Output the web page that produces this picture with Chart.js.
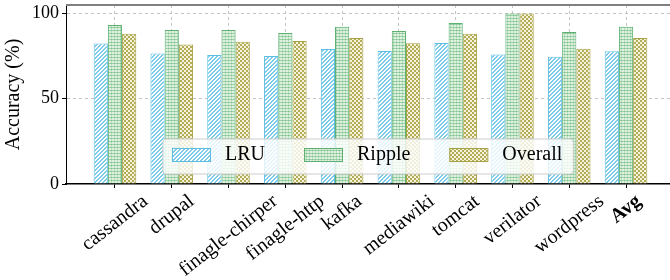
<!DOCTYPE html>
<html>
<head>
<meta charset="utf-8">
<script src="https://cdn.jsdelivr.net/npm/chart.js@4.4.0/dist/chart.umd.min.js"></script>
<style>
  html, body { margin: 0; padding: 0; background: #fff; overflow: hidden; }
  #wrap { width: 670px; height: 280px; overflow: hidden; }
</style>
</head>
<body>
<div id="wrap"><canvas id="accuracyChart" width="680" height="280"></canvas></div>
<script>
const categories = [
    "cassandra", "drupal", "finagle-chirper", "finagle-http", "kafka",
    "mediawiki", "tomcat", "verilator", "wordpress", "Avg"
];
const lruValues = [82.4, 76.5, 75.7, 75.1, 79.2, 78.0, 82.7, 75.9, 74.7, 77.8];
const rippleValues = [93.3, 90.4, 90.4, 88.6, 92.2, 89.8, 94.5, 100, 89.2, 92.2];
const overallValues = [88.2, 81.8, 83.5, 83.9, 85.7, 82.5, 88.2, 100, 79.4, 85.7];
const yTicks = [0, 50, 100];

Chart.defaults.font.family = "'Liberation Serif', serif";
Chart.defaults.color = "#000";

const canvas = document.getElementById("accuracyChart");
const ctx = canvas.getContext("2d");

// small tiles for the hatch fills
function makePattern(size, paint) {
    const tile = document.createElement("canvas");
    tile.width = size;
    tile.height = size;
    const g = tile.getContext("2d");
    for (let y = 0; y < size; y++) {
        for (let x = 0; x < size; x++) {
            g.fillStyle = paint(x, y);
            g.fillRect(x, y, 1, 1);
        }
    }
    return ctx.createPattern(tile, "repeat");
}

const lruFill = makePattern(4, (x, y) => ((x + y) % 4 < 2 ? "#7dcbea" : "#ffffff"));
const rippleFill = makePattern(3, (x, y) =>
    (y === 0 && x === 0) ? "#80c191" :
    (y === 0) ? "#9cd3a6" : (x === 0 ? "#b8e0bf" : "#dff0e1"));
const overallFill = makePattern(4, (x, y) =>
    (((x >> 1) + (y >> 1)) % 2 === 0) ? "#b2ac57" : "#f5f3dc");

/** ===== legend drawn inside the plot ===== */
const boxLegend = {
    id: "boxLegend",
    afterDatasetsDraw(chart) {
        const c = chart.ctx;
        const area = chart.chartArea;
        const x0 = area.left + 97;
        const y0 = area.bottom - 45;
        const h = 35;
        c.save();
        c.font = "20px 'Liberation Serif'";
        let w = 9;
        const items = chart.data.datasets.map((ds) => {
            const tw = c.measureText(ds.label).width;
            const item = { ds, x: x0 + w, tw };
            w += 38 + 15 + tw + 39;
            return item;
        });
        w = w - 39 + 11;
        c.beginPath();
        c.roundRect(x0, y0, w, h, 3);
        c.fillStyle = "rgba(255,255,255,0.8)";
        c.fill();
        c.strokeStyle = "#cccccc";
        c.lineWidth = 1;
        c.stroke();
        items.forEach(({ ds, x }) => {
            const sy = y0 + 9;
            c.fillStyle = ds.backgroundColor;
            c.fillRect(x, sy, 38, 13);
            c.strokeStyle = ds.borderColor;
            c.strokeRect(x + 0.5, sy + 0.5, 38, 13);
            c.fillStyle = "#000";
            c.textBaseline = "middle";
            c.fillText(ds.label, x + 38 + 15, sy + 7);
        });
        c.restore();
    },
    afterDraw(chart) {
        const c = chart.ctx;
        const area = chart.chartArea;
        c.save();
        c.strokeStyle = "#808080";
        c.lineWidth = 2;
        c.beginPath();
        c.moveTo(area.left, area.top);
        c.lineTo(area.right + 10, area.top);
        c.stroke();
        c.restore();
    }
};

/** ===== rotated category labels, centred under each tick ===== */
const centredLabels = {
    id: "centredLabels",
    afterDraw(chart) {
        const c = chart.ctx;
        const xScale = chart.scales.x;
        const area = chart.chartArea;
        const angle = (38 * Math.PI) / 180;
        const size = 20;
        c.save();
        c.fillStyle = "#000";
        c.textAlign = "center";
        c.textBaseline = "middle";
        categories.forEach((name, i) => {
            const bold = i === categories.length - 1;
            c.font = (bold ? "bold " : "") + size + "px 'Liberation Serif'";
            const w = c.measureText(name).width;
            const boxH = w * Math.sin(angle) + size * 0.9 * Math.cos(angle);
            c.save();
            c.translate(xScale.getPixelForValue(i), area.bottom + 8 + boxH / 2);
            c.rotate(-angle);
            c.fillText(name, 0, 0);
            c.restore();
        });
        c.restore();
    }
};

new Chart(ctx, {
    type: "bar",
    data: {
        datasets: [
            {
                label: "LRU",
                data: lruValues.map((v, i) => ({ x: i, y: v })),
                backgroundColor: lruFill,
                borderColor: "#5ebde2",
                borderWidth: 1,
            },
            {
                label: "Ripple",
                data: rippleValues.map((v, i) => ({ x: i, y: v })),
                backgroundColor: rippleFill,
                borderColor: "#5eb072",
                borderWidth: 1,
            },
            {
                label: "Overall",
                data: overallValues.map((v, i) => ({ x: i, y: v })),
                backgroundColor: overallFill,
                borderColor: "#a8a248",
                borderWidth: 1,
            },
        ],
    },
    options: {
        responsive: false,
        animation: false,
        barPercentage: 1,
        categoryPercentage: 0.75,
        layout: { padding: { top: 5, right: 5, left: 0, bottom: 0 } },
        plugins: {
            legend: { display: false },
            tooltip: { enabled: false },
        },
        scales: {
            x: {
                type: "linear",
                offset: false,
                min: -0.8625,
                max: 9.8625,
                afterBuildTicks: (scale) => {
                    scale.ticks = categories.map((_, i) => ({ value: i }));
                },
                afterFit: (scale) => {
                    scale.height = 96;
                    scale.paddingLeft = 0;
                    scale.paddingRight = 0;
                },
                ticks: { display: false },
                grid: { offset: false, color: "#c4c4c4", tickColor: "#000", tickLength: 4 },
                border: { color: "#000", width: 1.5, dash: [3, 3] },
            },
            y: {
                min: 0,
                max: 105,
                afterBuildTicks: (scale) => {
                    scale.ticks = yTicks.map((v) => ({ value: v }));
                },
                afterFit: (scale) => {
                    scale.width = 66;
                    scale.paddingTop = 0;
                    scale.paddingBottom = 0;
                },
                ticks: { color: "#000", padding: 3, font: { size: 18 } },
                grid: {
                    color: (c) => (c.tick && c.tick.value === 0 ? "rgba(0,0,0,0)" : "#c4c4c4"),
                    tickColor: "#000",
                    tickLength: 4,
                },
                border: { color: "#000", width: 1, dash: [3, 3] },
                title: {
                    display: true,
                    text: "Accuracy (%)",
                    color: "#000",
                    font: { size: 20 },
                    padding: { top: 2, bottom: 0 },
                },
            },
        },
    },
    plugins: [boxLegend, centredLabels],
});
</script>
</body>
</html>
